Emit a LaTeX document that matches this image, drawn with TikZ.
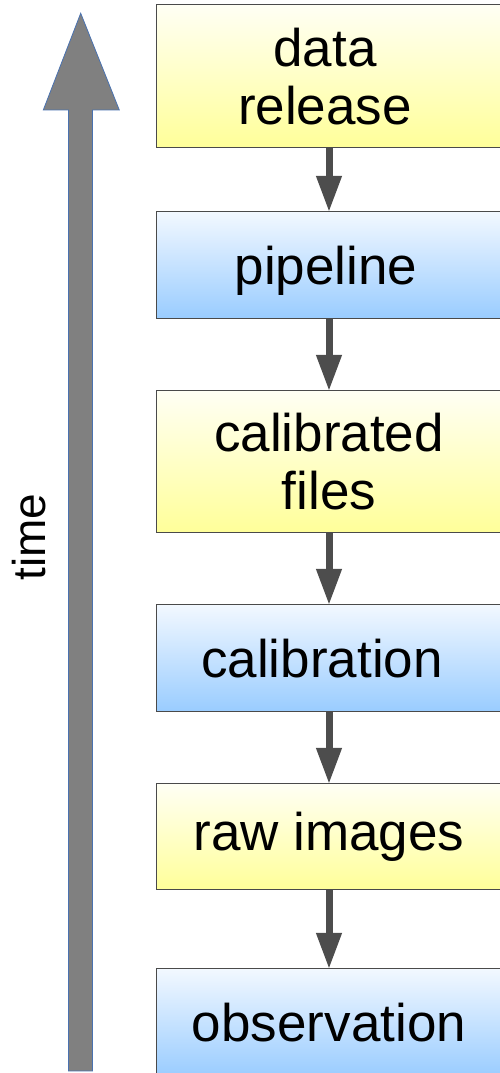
\documentclass[tikz,border=0pt]{standalone}
\usepackage{fontspec}
\setmainfont{Liberation Sans}
\usetikzlibrary{arrows.meta}
\definecolor{yelbot}{HTML}{FFFF99}
\definecolor{yeltop}{HTML}{FFFFF4}
\definecolor{blubot}{HTML}{99CCFF}
\definecolor{blutop}{HTML}{F2F8FF}
\definecolor{boxline}{HTML}{4A4A4A}
\definecolor{arrgray}{HTML}{4D4D4D}
\definecolor{timefill}{HTML}{808080}
\definecolor{timeline}{HTML}{4A72B0}
\tikzset{
  stage/.style={draw=boxline, line width=1pt, minimum width=346pt, inner sep=0pt,
    align=center, font=\fontsize{53}{58}\selectfont, text=black},
  ybox/.style={stage, top color=yeltop, bottom color=yelbot},
  bbox/.style={stage, top color=blutop, bottom color=blubot},
  flow/.style={draw=arrgray, line width=7pt, -{Triangle[width=24pt,length=36pt]}, arrgray, shorten >=-0.5pt},
  timearrow/.style={fill=timefill, draw=timeline, line width=0.8pt}
}
\begin{document}
\begin{tikzpicture}[x=1pt,y=1pt]
\useasboundingbox (0,0) rectangle (500,1073);
% time arrow
\draw[timearrow] (68.5,2) -- (68.5,963) -- (43.3,963) -- (80.7,1059.7) -- (119.3,963) -- (92.5,963) -- (92.5,2) -- cycle;
\node[rotate=90, font=\fontsize{46}{50}\selectfont] (time) at (29,536) {time};
% stages
\node[ybox, minimum height=143pt] (dr)  at (329,996.5) {\hspace*{-8pt}data\\\hspace*{-8pt}release};
\node[bbox, minimum height=107pt] (pl)  at (329,807.5) {\hspace*{-6pt}\raisebox{-5pt}[\height][\depth]{pipeline}};
\node[ybox, minimum height=142pt] (cf)  at (329,611)   {calibrated\\files};
\node[bbox, minimum height=107pt] (cal) at (329,414.5) {calibration\hspace*{14pt}};
\node[ybox, minimum height=106pt] (raw) at (329,236)   {raw images};
\node[bbox, minimum height=108pt] (obs) at (329,50)    {observation};
% flow arrows
\draw[flow] (dr.south)  -- (pl.north);
\draw[flow] (pl.south)  -- (cf.north);
\draw[flow] (cf.south)  -- (cal.north);
\draw[flow] (cal.south) -- (raw.north);
\draw[flow] (raw.south) -- (obs.north);
\end{tikzpicture}
\end{document}
